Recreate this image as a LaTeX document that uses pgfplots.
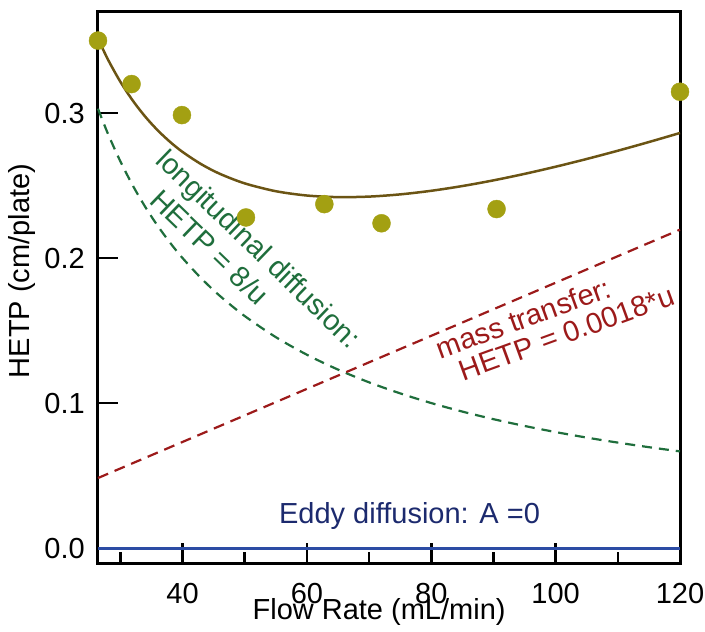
\documentclass[border=0pt]{standalone}
\usepackage{fontspec}
\setmainfont{Liberation Sans}
\usepackage{pgfplots}
\pgfplotsset{compat=1.18}
\newcommand\bigf{\fontsize{29bp}{34bp}\selectfont}
\definecolor{dotc}{HTML}{A3A012}
\definecolor{curvec}{HTML}{6B5414}
\definecolor{greenc}{HTML}{1F6E3C}
\definecolor{redc}{HTML}{9C1A1A}
\definecolor{navyc}{HTML}{1C2A6E}
\definecolor{bluec}{HTML}{2C4CA4}
\begin{document}
\begin{tikzpicture}
\begin{axis}[name=ax, scale only axis, width=582bp, height=551bp,
 xmin=26.4, xmax=120, ymin=-0.0103, ymax=0.3697,
 axis line style={line width=3bp},
 xtick={40,60,80,100,120}, minor xtick={30,50,70,90,110},
 ytick={0,0.1,0.2,0.3},
 tick pos=left,
 tick align=inside,
 major tick length=20bp, minor tick length=11bp,
 every tick/.style={black, line width=2.5bp},
 tick label style={font=\bigf, inner sep=0pt},
 xticklabel style={yshift=-20bp},
 yticklabel style={xshift=-13bp, /pgf/number format/.cd, fixed, fixed zerofill, precision=1},
 /pgf/number format/assume math mode=true,
 label style={font=\bigf},
 xlabel={Flow Rate (mL/min)}, ylabel={HETP (cm/plate)},
 xlabel style={at={(axis description cs:0.483,-0.1034)}, anchor=base, inner sep=0pt},
 ylabel style={at={(axis description cs:-0.1306,0.53)}, anchor=center, inner sep=0pt},
 clip=false,
]
\addplot[greenc, line width=2.2bp, dash pattern=on 10bp off 7bp, smooth] coordinates {
(26.4,0.30303) (28,0.28571) (30,0.26667) (32,0.25) (34,0.23529) (36,0.22222) (38,0.21053)
(40,0.2) (43,0.18605) (46,0.17391) (50,0.16) (55,0.14545) (60,0.13333) (65,0.12308)
(70,0.11429) (75,0.10667) (80,0.1) (85,0.09412) (90,0.08889) (95,0.08421) (100,0.08)
(105,0.07619) (110,0.07273) (115,0.06957) (120,0.06667)};
\addplot[redc, line width=2.2bp, dash pattern=on 11bp off 7bp] coordinates {(26.4,0.04831) (120,0.2196)};
\addplot[bluec, line width=3bp] coordinates {(26.4,0) (120,0)};
\addplot[curvec, line width=2.5bp, smooth] coordinates {
(26.4,0.35134) (28,0.33695) (30,0.32157) (32,0.30856) (34,0.29751) (36,0.2881) (38,0.28007)
(40,0.2732) (43,0.26474) (46,0.25809) (50,0.2515) (55,0.2461) (60,0.24313) (65,0.24203)
(70,0.24239) (75,0.24392) (80,0.2464) (85,0.24967) (90,0.25359) (95,0.25806) (100,0.263)
(105,0.26834) (110,0.27403) (115,0.28002) (120,0.28627)};
\addplot[only marks, mark=*, mark size=9bp, color=dotc, mark options={draw=dotc, fill=dotc}] coordinates {
(26.4,0.350) (31.8,0.320) (39.9,0.2986) (50.2,0.228) (62.8,0.2372) (72.0,0.224) (90.5,0.2338) (120,0.3147)};
\node[greenc, font=\bigf, rotate=-44] at (axis cs:52.0,0.205) {longitudinal diffusion:};
\node[greenc, font=\bigf, rotate=-44] at (axis cs:44.4,0.2076) {HETP = 8/u};
\node[redc, font=\bigf, rotate=20] at (axis cs:94.8,0.1586) {mass transfer:};
\node[redc, font=\bigf, rotate=20] at (axis cs:101.8,0.1483) {HETP = 0.0018*u};
\node[navyc, font=\bigf, anchor=base] at (axis cs:76.5,0.0166) {Eddy diffusion: A =0};
\end{axis}
\pgfresetboundingbox
\path[use as bounding box] ([shift={(-98bp,-69bp)}]ax.south west) rectangle ([shift={(607bp,563bp)}]ax.south west);
\end{tikzpicture}
\end{document}
